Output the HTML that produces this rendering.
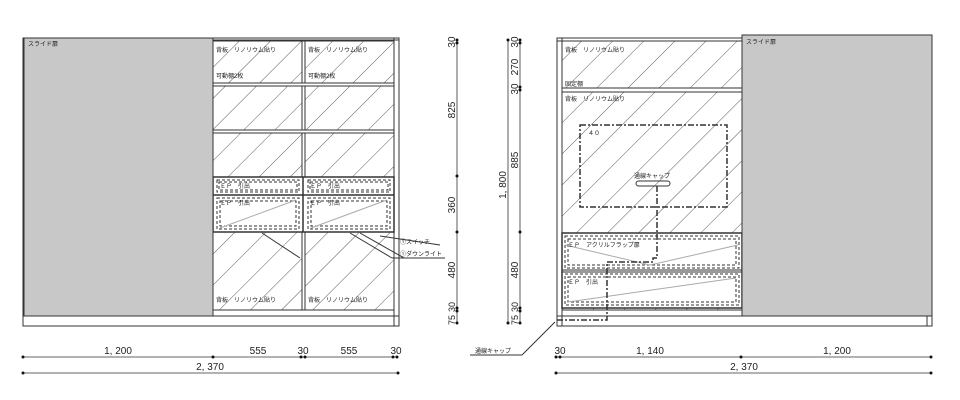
<!DOCTYPE html>
<html><head><meta charset="utf-8"><style>
html,body{margin:0;padding:0;background:#fff;}
svg{display:block;font-family:"Liberation Sans","Noto Sans CJK JP",sans-serif;}
</style></head><body>
<svg width="960" height="400" viewBox="0 0 960 400" xmlns="http://www.w3.org/2000/svg">
<defs>
<pattern id="h" patternUnits="userSpaceOnUse" width="22" height="22" patternTransform="rotate(45)">
<line x1="0" y1="0" x2="0" y2="22" stroke="#333" stroke-width="0.8"/>
</pattern>
</defs>
<g stroke="#333" fill="none" stroke-width="1">
<!-- LEFT CABINET -->
<rect x="213" y="41" width="181" height="269" fill="url(#h)"/>
<rect x="23" y="38" width="376" height="288"/>
<line x1="23" y1="40" x2="399" y2="40"/>
<line x1="394" y1="38" x2="394" y2="326"/>
<line x1="23" y1="316" x2="399" y2="316"/>
<line x1="213" y1="310" x2="394" y2="310"/>
<rect x="302" y="41" width="3" height="269" fill="#fff"/>
<rect x="213" y="83" width="181" height="3" fill="#fff"/>
<rect x="213" y="130" width="181" height="3" fill="#fff"/>
<rect x="213" y="177" width="181" height="55" fill="#fff" stroke-width="1.5"/>
<line x1="213" y1="195" x2="394" y2="195" stroke-width="1.5"/>
<line x1="303" y1="177" x2="303" y2="232" stroke-width="1.5"/>
<g stroke-dasharray="3,2">
<rect x="217" y="180" width="82" height="12"/><rect x="219" y="182" width="78" height="8"/>
<rect x="308" y="180" width="82" height="12"/><rect x="310" y="182" width="78" height="8"/>
<rect x="217" y="198" width="82" height="31"/><rect x="220" y="201" width="76" height="25"/>
<rect x="308" y="198" width="82" height="31"/><rect x="311" y="201" width="76" height="25"/>
</g>
<line x1="220" y1="228" x2="296" y2="200" stroke="#aaa"/>
<line x1="311" y1="228" x2="387" y2="200" stroke="#aaa"/>
<line x1="262" y1="233" x2="300" y2="258"/>
<line x1="350" y1="233" x2="392" y2="258"/>
<line x1="360" y1="233" x2="404" y2="258"/>
<line x1="380" y1="236" x2="440" y2="245"/>
<line x1="392" y1="258" x2="445" y2="258"/>
<rect x="24" y="38" width="189" height="278" fill="#c8c8c8"/>
<!-- RIGHT CABINET -->
<rect x="562" y="41" width="180" height="269" fill="url(#h)"/>
<rect x="557" y="38" width="375" height="288"/>
<line x1="562" y1="38" x2="562" y2="326"/>
<line x1="557" y1="41" x2="932" y2="41"/>
<line x1="557" y1="316" x2="932" y2="316"/>
<line x1="562" y1="310" x2="742" y2="310"/>
<line x1="927" y1="316" x2="927" y2="326"/>
<rect x="562" y="88" width="180" height="4" fill="#fff"/>
<rect x="562" y="233" width="180" height="75" fill="#fff" stroke-width="1.5"/>
<line x1="562" y1="270" x2="742" y2="270"/><line x1="562" y1="272" x2="742" y2="272"/>
<g stroke-dasharray="3,2">
<rect x="565" y="236" width="174" height="32"/><rect x="568" y="239" width="168" height="26"/>
<rect x="565" y="274" width="174" height="31"/><rect x="568" y="277" width="168" height="25"/>
</g>
<line x1="568" y1="302" x2="736" y2="278" stroke="#aaa"/>
<line x1="565" y1="245" x2="650" y2="265" stroke="#aaa"/>
<line x1="650" y1="265" x2="738" y2="245" stroke="#aaa"/>
<rect x="580" y="125" width="147" height="82" stroke-width="1.5" stroke-dasharray="6,2,2,2"/>
<rect x="636" y="181" width="34" height="5" rx="2.5"/>
<polyline points="657,186 657,258 653,258 653,262 607,262 607,320 557,320" stroke-width="1.5" stroke-dasharray="6,2,2,2"/>
<line x1="555" y1="322" x2="522" y2="355"/><line x1="522" y1="355" x2="470" y2="355"/>
<rect x="742" y="35" width="190" height="281" fill="#c8c8c8"/>
<!-- dims -->
<g stroke-width="0.8">
<line x1="457" y1="40" x2="457" y2="324"/>
<line x1="520" y1="40" x2="520" y2="324"/>
<line x1="508" y1="40" x2="508" y2="324"/>
<line x1="23" y1="357" x2="398" y2="357"/>
<line x1="23" y1="373" x2="398" y2="373"/>
<line x1="556" y1="357" x2="931" y2="357"/>
<line x1="556" y1="373" x2="931" y2="373"/>
</g>
</g>
<g fill="#111">
<circle cx="457" cy="40" r="1.5"/><circle cx="457" cy="43" r="1.5"/><circle cx="457" cy="176" r="1.5"/><circle cx="457" cy="232" r="1.5"/><circle cx="457" cy="308" r="1.5"/><circle cx="457" cy="311" r="1.5"/><circle cx="457" cy="323" r="1.5"/>
<circle cx="520" cy="40" r="1.5"/><circle cx="520" cy="43" r="1.5"/><circle cx="520" cy="87" r="1.5"/><circle cx="520" cy="90" r="1.5"/><circle cx="520" cy="232" r="1.5"/><circle cx="520" cy="308" r="1.5"/><circle cx="520" cy="311" r="1.5"/><circle cx="520" cy="323" r="1.5"/>
<circle cx="508" cy="40" r="1.5"/><circle cx="508" cy="323" r="1.5"/>
<circle cx="23" cy="357" r="1.5"/><circle cx="213" cy="357" r="1.5"/><circle cx="301" cy="357" r="1.5"/><circle cx="305" cy="357" r="1.5"/><circle cx="393" cy="357" r="1.5"/><circle cx="397" cy="357" r="1.5"/>
<circle cx="23" cy="373" r="1.5"/><circle cx="398" cy="373" r="1.5"/>
<circle cx="556" cy="357" r="1.5"/><circle cx="560" cy="357" r="1.5"/><circle cx="741" cy="357" r="1.5"/><circle cx="931" cy="357" r="1.5"/>
<circle cx="556" cy="373" r="1.5"/><circle cx="931" cy="373" r="1.5"/>
</g>
<g font-size="6" fill="#222">
<text x="28" y="46">スライド扉</text>
<text x="746" y="44">スライド扉</text>
<text x="216" y="52">背板　リノリウム貼り</text><text x="308" y="52">背板　リノリウム貼り</text>
<text x="216" y="78">可動棚2枚</text><text x="308" y="78">可動棚2枚</text>
<text x="216" y="302">背板　リノリウム貼り</text><text x="308" y="302">背板　リノリウム貼り</text>
<text x="220" y="188">ＥＰ　引出</text><text x="310" y="188">ＥＰ　引出</text>
<text x="220" y="205">ＥＰ　引出</text><text x="310" y="205">ＥＰ　引出</text>
<text x="400" y="244">①スイッチ</text><text x="400" y="256">①ダウンライト</text>
<text x="565" y="52">背板　リノリウム貼り</text>
<text x="565" y="86">固定棚</text>
<text x="565" y="101">背板　リノリウム貼り</text>
<text x="588" y="135">４０</text>
<text x="634" y="178">通線キャップ</text>
<text x="568" y="247">ＥＰ　アクリルフラップ扉</text>
<text x="568" y="284">ＥＰ　引出</text>
<text x="475" y="353">通線キャップ</text>
</g>
<g font-size="10" fill="#222" text-anchor="middle">
<text x="118" y="354">1, 200</text><text x="258" y="354">555</text><text x="303" y="354">30</text><text x="349" y="354">555</text><text x="396" y="354">30</text>
<text x="210" y="370">2, 370</text>
<text x="560" y="354">30</text><text x="650" y="354">1, 140</text><text x="837" y="354">1, 200</text>
<text x="744" y="370">2, 370</text>
<g transform="rotate(-90)">
<text x="-42" y="455">30</text><text x="-110" y="455">825</text><text x="-205" y="455">360</text><text x="-270" y="455">480</text><text x="-307" y="455" font-size="9">30</text><text x="-320" y="455" font-size="9">75</text>
<text x="-42" y="518">30</text><text x="-67" y="518">270</text><text x="-89" y="518">30</text><text x="-160" y="518">885</text><text x="-270" y="518">480</text><text x="-307" y="518" font-size="9">30</text><text x="-320" y="518" font-size="9">75</text>
<text x="-185" y="506">1, 800</text>
</g>
</g>
</svg>
</body></html>
